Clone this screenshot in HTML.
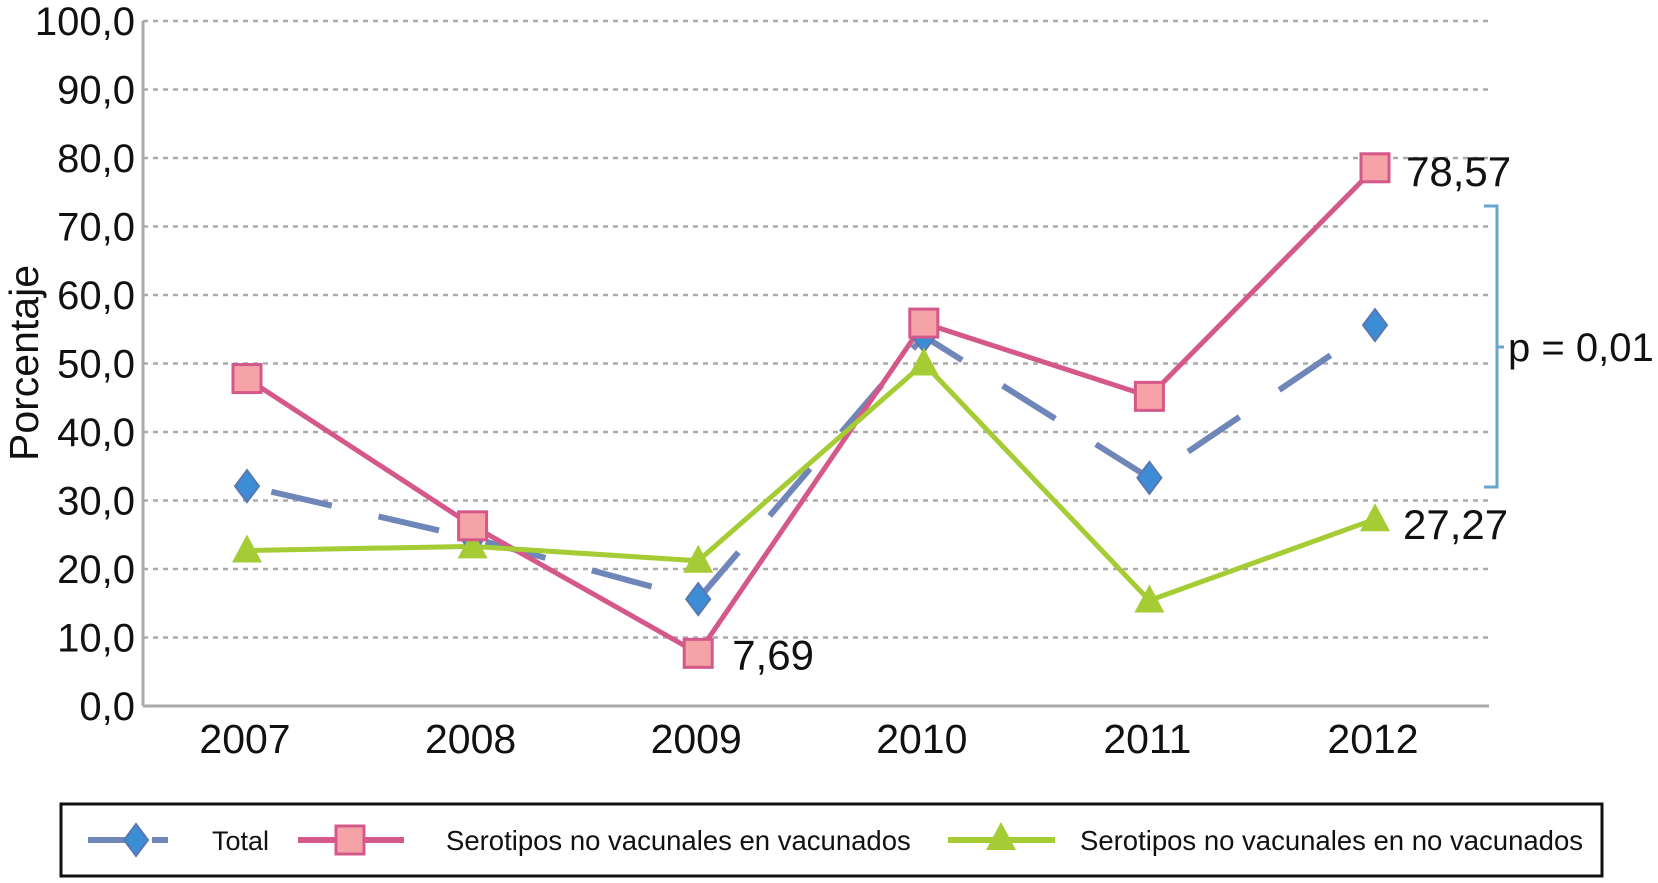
<!DOCTYPE html>
<html><head><meta charset="utf-8"><style>
body{margin:0;background:#fff;width:1658px;height:878px;overflow:hidden}
svg{font-family:"Liberation Sans",sans-serif}
</style></head><body>
<svg id="c" width="1658" height="878"></svg>
<script>
const categories=["2007","2008","2009","2010","2011","2012"];
const totalVals=[32.1,24.5,15.6,54.0,33.3,55.6];
const vacVals=[47.8,26.3,7.69,55.9,45.2,78.57];
const noVacVals=[22.7,23.3,21.2,50.0,15.4,27.27];
const yTicks=[0,10,20,30,40,50,60,70,80,90,100];
const NS="http://www.w3.org/2000/svg";
const svg=document.getElementById('c');
const L=143,R=1489,T=21,B=706;
const xs=i=>247+i*225.6;
const ys=v=>B-(v/100)*(B-T);
function el(t,a,p){const e=document.createElementNS(NS,t);for(const k in a)e.setAttribute(k,a[k]);(p||svg).appendChild(e);return e;}
yTicks.forEach(v=>{
 if(v>0){const g=el('line',{x1:L,x2:R,y1:ys(v),y2:ys(v),stroke:'#aaa','stroke-width':2.5,'stroke-dasharray':'5,5'});
 
 }
 const t=el('text',{x:135,y:ys(v)+14,'text-anchor':'end','font-size':40,fill:'#111'});t.textContent=v.toFixed(1).replace('.',',');
 
 
});
el('line',{x1:L,x2:L,y1:T,y2:B,stroke:'#aaa','stroke-width':3});
el('line',{x1:L,x2:R,y1:B,y2:B,stroke:'#aaa','stroke-width':3});
categories.forEach((c,i)=>{const t=el('text',{x:xs(i)-2,y:753,'text-anchor':'middle','font-size':41,fill:'#111'});t.textContent=c;
 
 });
const yt=el('text',{x:0,y:0,transform:'translate(38,363) rotate(-90)','text-anchor':'middle','font-size':41,fill:'#111'});yt.textContent='Porcentaje';


function pts(a){return a.map((v,i)=>xs(i)+','+ys(v)).join(' ');}
const lt=el('polyline',{points:pts(totalVals),fill:'none',stroke:'#6f86b8','stroke-width':6,'stroke-dasharray':'62,48','stroke-dashoffset':'-25'});

const lv=el('polyline',{points:pts(vacVals),fill:'none',stroke:'#d4588a','stroke-width':5});

const ln=el('polyline',{points:pts(noVacVals),fill:'none',stroke:'#a5cc34','stroke-width':5});

function diamond(x,y,g){return el('polygon',{points:`${x},${y-16} ${x+12},${y} ${x},${y+16} ${x-12},${y}`,fill:'#3d8dd6',stroke:'#5a78b0','stroke-width':2},g);}
function square(x,y,g){return el('rect',{x:x-14,y:y-14,width:28,height:28,fill:'#f6a3a8',stroke:'#d4588a','stroke-width':3},g);}
function tri(x,y,g){return el('polygon',{points:`${x},${y-16} ${x+15},${y+12} ${x-15},${y+12}`,fill:'#a5cc34'},g);}
totalVals.forEach((v,i)=>{const m=diamond(xs(i),ys(v));});
noVacVals.forEach((v,i)=>{const m=tri(xs(i),ys(v));});
vacVals.forEach((v,i)=>{const m=square(xs(i),ys(v));});
function lab(txt,x,y){const t=el('text',{x:x,y:y,'font-size':42,fill:'#111'});t.textContent=txt;}
lab('7,69',xs(2)+34,ys(vacVals[2])+16);
lab('78,57',xs(5)+31,ys(vacVals[5])+18);
lab('27,27',xs(5)+28,ys(noVacVals[5])+20);
const br=el('path',{d:'M1484,206 H1497 V487 H1484 M1497,347 H1504',fill:'none',stroke:'#6aa6cc','stroke-width':3});

const pl=el('text',{x:1508,y:361,'font-size':40,fill:'#111'});pl.textContent='p = 0,01';


const lg=el('g',{});
el('rect',{x:61,y:804,width:1541,height:72,fill:'#fff',stroke:'#111','stroke-width':3},lg);
el('line',{x1:88,x2:168,y1:840,y2:840,stroke:'#6f86b8','stroke-width':6,'stroke-dasharray':'44,20'},lg);
diamond(136,840,lg);
let t=el('text',{x:212,y:850,'font-size':27,fill:'#111'},lg);t.textContent='Total';
el('line',{x1:298,x2:404,y1:840,y2:840,stroke:'#d4588a','stroke-width':6},lg);square(350,840,lg);
t=el('text',{x:446,y:850,'font-size':27.5,fill:'#111'},lg);t.textContent='Serotipos no vacunales en vacunados';
el('line',{x1:948,x2:1055,y1:840,y2:840,stroke:'#a5cc34','stroke-width':6},lg);tri(1001,838,lg);
t=el('text',{x:1080,y:850,'font-size':27.5,fill:'#111'},lg);t.textContent='Serotipos no vacunales en no vacunados';
</script>
</body></html>
